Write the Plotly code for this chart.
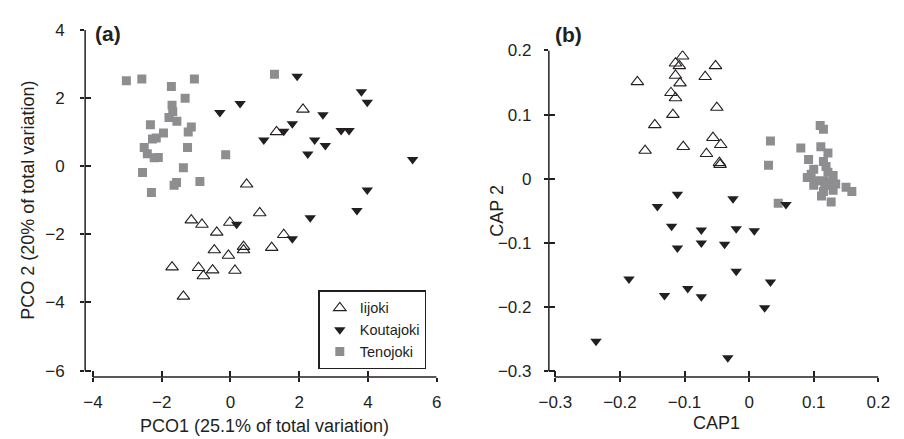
import plotly.graph_objects as go

# ---------------- data ----------------
# Panel (a): PCO ordination
a_iijoki_x = [2.11, 1.34, 0.47, 0.85, -1.14, -0.83, -0.02, -0.40, -0.47, -0.06,
              0.38, 0.38, -1.70, -0.93, -0.52, -0.79, 0.13, -1.37, 1.55, 1.20]
a_iijoki_y = [1.67, 1.01, -0.53, -1.37, -1.58, -1.71, -1.65, -1.94, -2.46, -2.62,
              -2.36, -2.46, -2.96, -2.98, -3.05, -3.22, -3.06, -3.82, -2.01, -2.39]

a_kouta_x = [-0.31, 0.28, 1.94, 3.81, 3.98, 2.69, 1.80, 1.55, 0.97, 3.22,
             3.45, 2.45, 2.76, 2.25, 5.30, 3.98, 3.68, 2.32, 1.80, 0.18]
a_kouta_y = [1.58, 1.84, 2.64, 2.19, 1.88, 1.51, 1.25, 1.03, 0.77, 1.05,
             1.05, 0.77, 0.61, 0.36, 0.20, -0.70, -1.30, -1.51, -2.13, -1.70]

a_teno_x = [-3.03, -2.58, -1.72, -1.05, -1.32, -1.70, -1.68, -1.79, -1.56, -2.33,
            -1.95, -2.16, -2.27, -1.14, -1.23, -2.51, -2.42, -2.22, -2.10, -1.25,
            -0.14, -2.56, -1.37, -1.57, -1.64, -0.89, -2.30, 1.28]
a_teno_y = [2.51, 2.56, 2.34, 2.56, 2.00, 1.79, 1.60, 1.43, 1.32, 1.22,
            0.98, 0.83, 0.80, 1.15, 1.01, 0.55, 0.37, 0.25, 0.26, 0.55,
            0.34, -0.18, -0.04, -0.48, -0.56, -0.45, -0.77, 2.70]

# Panel (b): CAP ordination
b_iijoki_x = [-0.103, -0.114, -0.108, -0.114, -0.107, -0.173, -0.068, -0.052, -0.121, -0.114,
              -0.118, -0.146, -0.161, -0.102, -0.050, -0.056, -0.044, -0.066, -0.046, -0.045]
b_iijoki_y = [0.191, 0.180, 0.176, 0.161, 0.149, 0.151, 0.159, 0.176, 0.134, 0.126,
              0.100, 0.084, 0.044, 0.050, 0.111, 0.064, 0.053, 0.039, 0.025, 0.022]

b_kouta_x = [-0.111, -0.025, -0.142, -0.120, -0.074, -0.020, 0.008, -0.111, -0.074, -0.038,
             -0.020, -0.186, -0.095, -0.131, -0.074, -0.237, -0.033, 0.057, 0.033, 0.024]
b_kouta_y = [-0.024, -0.031, -0.043, -0.074, -0.080, -0.078, -0.081, -0.108, -0.100, -0.102,
             -0.144, -0.156, -0.171, -0.182, -0.184, -0.253, -0.279, -0.040, -0.161, -0.201]

b_teno_x = [0.033, 0.030, 0.045, 0.110, 0.115, 0.080, 0.111, 0.122, 0.092, 0.115,
            0.100, 0.122, 0.130, 0.090, 0.102, 0.115, 0.127, 0.100, 0.117, 0.130,
            0.115, 0.150, 0.159, 0.112, 0.127, 0.096, 0.119, 0.134]
b_teno_y = [0.059, 0.021, -0.038, 0.083, 0.077, 0.048, 0.050, 0.040, 0.030, 0.027,
            0.015, 0.010, 0.005, 0.002, -0.003, -0.003, -0.005, -0.010, -0.010, -0.018,
            -0.020, -0.013, -0.020, -0.027, -0.036, 0.007, 0.019, -0.008]

a_xticks = [-4, -2, 0, 2, 4, 6]
a_yticks = [-6, -4, -2, 0, 2, 4]
b_xticks = [-0.3, -0.2, -0.1, 0, 0.1, 0.2]
b_yticks = [-0.3, -0.2, -0.1, 0, 0.1, 0.2]


def lab(v):
    s = ("%g" % v)
    return s.replace("-", "\u2212")


FONT = "Liberation Sans, Arial, Helvetica, sans-serif"
INK = "#231f20"
GREY = "#8e8e91"

fig = go.Figure()

# squares first, then open triangles, then filled triangles on top
for xs, ys, xa, ya, show in [(a_teno_x, a_teno_y, "x", "y", True),
                             (b_teno_x, b_teno_y, "x2", "y2", False)]:
    fig.add_trace(go.Scatter(x=xs, y=ys, xaxis=xa, yaxis=ya, mode="markers",
                             name="Tenojoki", showlegend=show, legendrank=3,
                             marker=dict(symbol="square", size=9, color=GREY,
                                         line=dict(width=0))))
for xs, ys, xa, ya, show in [(a_iijoki_x, a_iijoki_y, "x", "y", True),
                             (b_iijoki_x, b_iijoki_y, "x2", "y2", False)]:
    fig.add_trace(go.Scatter(x=xs, y=ys, xaxis=xa, yaxis=ya, mode="markers",
                             name="Iijoki", showlegend=show, legendrank=1,
                             marker=dict(symbol="triangle-up-open", size=11, color=INK,
                                         line=dict(width=1.1, color=INK))))
for xs, ys, xa, ya, show in [(a_kouta_x, a_kouta_y, "x", "y", True),
                             (b_kouta_x, b_kouta_y, "x2", "y2", False)]:
    fig.add_trace(go.Scatter(x=xs, y=ys, xaxis=xa, yaxis=ya, mode="markers",
                             name="Koutajoki", showlegend=show, legendrank=2,
                             marker=dict(symbol="triangle-down", size=10, color=INK,
                                         line=dict(width=0))))

# empty helper traces so the inside-tick overlay axes are drawn
for xa, ya in [("x3", "y"), ("x", "y3"), ("x4", "y2"), ("x2", "y4")]:
    fig.add_trace(go.Scatter(x=[], y=[], xaxis=xa, yaxis=ya, mode="markers",
                             showlegend=False, hoverinfo="skip"))

W, H = 904, 439
ax_common = dict(showgrid=False, zeroline=False, showline=False,
                 ticks="outside", ticklen=4, tickwidth=1.5, tickcolor=INK,
                 tickfont=dict(family=FONT, size=17, color=INK), tickmode="array")
ov_common = dict(showgrid=False, zeroline=False, showline=False,
                 ticks="inside", ticklen=6, tickwidth=1.5, tickcolor=INK,
                 showticklabels=False, tickmode="array")

xa_dom = [77 / W, 437.3 / W]
ya_dom = [1 - 379.3 / H, 1 - 21.7 / H]
xb_dom = [552.3 / W, 890 / W]
yb_dom = [1 - 379.3 / H, 1 - 42.7 / H]
xa_rng = [-4.23, 6]
ya_rng = [-6.19, 4]
xb_rng = [-0.310, 0.2]
yb_rng = [-0.309, 0.2]

fig.update_layout(
    width=W, height=H, margin=dict(l=0, r=0, t=0, b=0),
    paper_bgcolor="white", plot_bgcolor="white",
    font=dict(family=FONT, color=INK),
    xaxis=dict(domain=xa_dom, range=xa_rng, anchor="y", tickvals=a_xticks,
               ticktext=[lab(v) for v in a_xticks], ticklabelstandoff=6, **ax_common),
    yaxis=dict(domain=ya_dom, range=ya_rng, anchor="x", tickvals=a_yticks,
               ticktext=[lab(v) for v in a_yticks], ticklabelstandoff=12, **ax_common),
    xaxis2=dict(domain=xb_dom, range=xb_rng, anchor="y2", tickvals=b_xticks,
                ticktext=[lab(v) for v in b_xticks], ticklabelstandoff=6, **ax_common),
    yaxis2=dict(domain=yb_dom, range=yb_rng, anchor="x2", tickvals=b_yticks,
                ticktext=[lab(v) for v in b_yticks], ticklabelstandoff=9, **ax_common),
    xaxis3=dict(overlaying="x", anchor="y", range=xa_rng, tickvals=a_xticks, **ov_common),
    yaxis3=dict(overlaying="y", anchor="x", range=ya_rng, tickvals=a_yticks, **ov_common),
    xaxis4=dict(overlaying="x2", anchor="y2", range=xb_rng, tickvals=b_xticks, **ov_common),
    yaxis4=dict(overlaying="y2", anchor="x2", range=yb_rng, tickvals=b_yticks, **ov_common),
    legend=dict(x=316 / W, y=1 - 290 / H, xanchor="left", yanchor="top",
                bgcolor="white", bordercolor=INK, borderwidth=1.5,
                font=dict(family=FONT, size=14.5, color=INK),
                itemwidth=30, tracegroupgap=0),
    showlegend=True,
)

# axis lines that stop at the end ticks (separated axes)
shape_line = dict(color=INK, width=1.5)
fig.add_shape(type="line", xref="x domain", x0=0, x1=0, yref="y", y0=-6, y1=4, line=shape_line)
fig.add_shape(type="line", xref="x", x0=-4, x1=6, yref="y domain", y0=0, y1=0, line=shape_line)
fig.add_shape(type="line", xref="x2 domain", x0=0, x1=0, yref="y2", y0=-0.3, y1=0.2, line=shape_line)
fig.add_shape(type="line", xref="x2", x0=-0.3, x1=0.2, yref="y2 domain", y0=0, y1=0, line=shape_line)

tf = dict(family=FONT, size=18, color=INK)
fig.add_annotation(text="PCO1 (25.1% of total variation)", xref="paper", yref="paper",
                   x=261 / W, y=1 - 430 / H, showarrow=False, font=tf,
                   xanchor="center", yanchor="middle")
fig.add_annotation(text="PCO 2 (20% of total variation)", xref="paper", yref="paper",
                   x=19 / W, y=1 - 197 / H, showarrow=False, font=tf, textangle=-90,
                   xanchor="center", yanchor="middle")
fig.add_annotation(text="CAP1", xref="paper", yref="paper",
                   x=724 / W, y=1 - 427 / H, showarrow=False, font=tf,
                   xanchor="center", yanchor="middle")
fig.add_annotation(text="CAP 2", xref="paper", yref="paper",
                   x=499 / W, y=1 - 208 / H, showarrow=False, font=tf, textangle=-90,
                   xanchor="center", yanchor="middle")
pf = dict(family=FONT, size=21, color=INK)
fig.add_annotation(text="<b>(a)</b>", xref="paper", yref="paper",
                   x=85 / W, y=1 - 25 / H, showarrow=False, font=pf,
                   xanchor="left", yanchor="middle")
fig.add_annotation(text="<b>(b)</b>", xref="paper", yref="paper",
                   x=557 / W, y=1 - 26 / H, showarrow=False, font=pf,
                   xanchor="left", yanchor="middle")

# remove the browser's default 8px body margin so the figure sits at the page origin
fig.write_html("out.html", config={"displayModeBar": False},
               post_script="document.body.style.margin='0';document.body.style.overflow='hidden';")
